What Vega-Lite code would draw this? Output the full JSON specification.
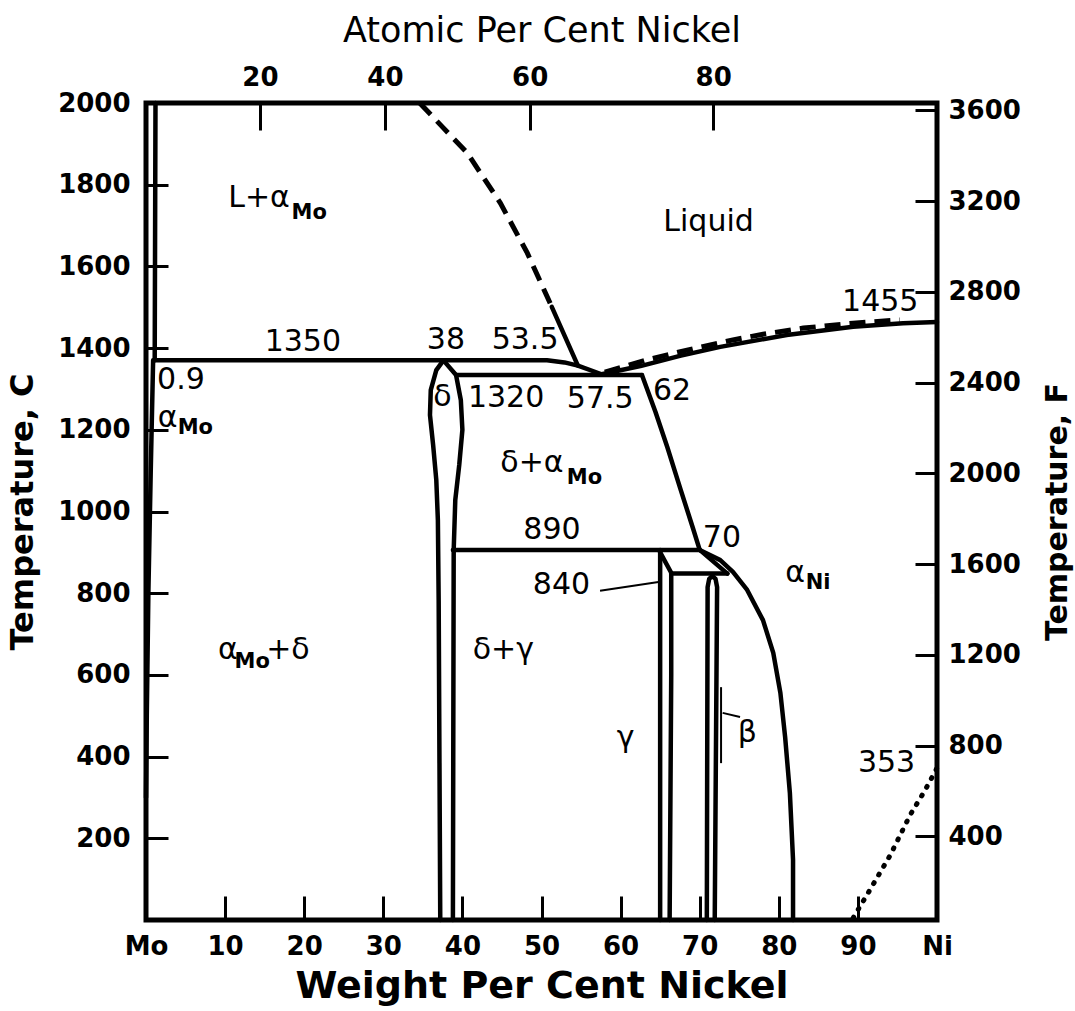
{
  "$schema": "https://vega.github.io/schema/vega-lite/v6.json",
  "width": 791,
  "height": 817,
  "autosize": {"type": "none"},
  "padding": {"left": 146, "top": 103, "right": 138, "bottom": 91},
  "background": "white",
  "config": {
    "view": {"stroke": "black", "strokeWidth": 5},
    "axis": {"domain": false, "grid": false, "labelFont": "DejaVu Sans", "titleFont": "DejaVu Sans", "labelColor": "black", "titleColor": "black", "tickColor": "black", "tickWidth": 3, "labelFlush": false, "labelOverlap": false, "labelBound": false}
  },
  "datasets": {
    "solid": [
      {"id": "moSolidus", "o": 1, "x": 1.2, "t": 2000}, {"id": "moSolidus", "o": 2, "x": 1.1, "t": 1370},
      {"id": "moSolvus", "o": 1, "x": 0.9, "t": 1370}, {"id": "moSolvus", "o": 2, "x": 0.6, "t": 1100}, {"id": "moSolvus", "o": 3, "x": 0.3, "t": 800}, {"id": "moSolvus", "o": 4, "x": 0.1, "t": 500}, {"id": "moSolvus", "o": 5, "x": 0, "t": 300},
      {"id": "peritectic", "o": 1, "x": 1.1, "t": 1370}, {"id": "peritectic", "o": 2, "x": 50.7, "t": 1370}, {"id": "peritectic", "o": 3, "x": 52.9, "t": 1365}, {"id": "peritectic", "o": 4, "x": 54.6, "t": 1357}, {"id": "peritectic", "o": 5, "x": 57.6, "t": 1336},
      {"id": "liqLeft", "o": 1, "x": 51.3, "t": 1501}, {"id": "liqLeft", "o": 2, "x": 54.6, "t": 1357},
      {"id": "deltaL", "o": 1, "x": 37.6, "t": 1370}, {"id": "deltaL", "o": 2, "x": 36.7, "t": 1346}, {"id": "deltaL", "o": 3, "x": 36.0, "t": 1297}, {"id": "deltaL", "o": 4, "x": 35.9, "t": 1236}, {"id": "deltaL", "o": 5, "x": 36.3, "t": 1163}, {"id": "deltaL", "o": 6, "x": 36.7, "t": 1077}, {"id": "deltaL", "o": 7, "x": 36.9, "t": 979}, {"id": "deltaL", "o": 8, "x": 37.0, "t": 783}, {"id": "deltaL", "o": 9, "x": 37.2, "t": 0},
      {"id": "deltaR", "o": 1, "x": 37.6, "t": 1370}, {"id": "deltaR", "o": 2, "x": 39.2, "t": 1334}, {"id": "deltaR", "o": 3, "x": 39.8, "t": 1273}, {"id": "deltaR", "o": 4, "x": 40.0, "t": 1200}, {"id": "deltaR", "o": 5, "x": 39.6, "t": 1114}, {"id": "deltaR", "o": 6, "x": 39.1, "t": 1028}, {"id": "deltaR", "o": 7, "x": 38.9, "t": 906}, {"id": "deltaR", "o": 8, "x": 38.8, "t": 0},
      {"id": "eutectic", "o": 1, "x": 39.2, "t": 1334}, {"id": "eutectic", "o": 2, "x": 62.7, "t": 1334},
      {"id": "liqRight", "o": 1, "x": 57.6, "t": 1336}, {"id": "liqRight", "o": 2, "x": 62.5, "t": 1356}, {"id": "liqRight", "o": 3, "x": 67.5, "t": 1381}, {"id": "liqRight", "o": 4, "x": 72.6, "t": 1403}, {"id": "liqRight", "o": 5, "x": 81.0, "t": 1432}, {"id": "liqRight", "o": 6, "x": 89.4, "t": 1452}, {"id": "liqRight", "o": 7, "x": 95.7, "t": 1461}, {"id": "liqRight", "o": 8, "x": 100, "t": 1464},
      {"id": "niSolidus", "o": 1, "x": 62.7, "t": 1334}, {"id": "niSolidus", "o": 2, "x": 64.4, "t": 1244}, {"id": "niSolidus", "o": 3, "x": 65.9, "t": 1158}, {"id": "niSolidus", "o": 4, "x": 67.6, "t": 1053}, {"id": "niSolidus", "o": 5, "x": 69.1, "t": 962}, {"id": "niSolidus", "o": 6, "x": 70.0, "t": 906},
      {"id": "l890", "o": 1, "x": 38.8, "t": 906}, {"id": "l890", "o": 2, "x": 70.0, "t": 906},
      {"id": "gammaL", "o": 1, "x": 65.0, "t": 906}, {"id": "gammaL", "o": 2, "x": 65.0, "t": 0},
      {"id": "gammaR", "o": 1, "x": 65.0, "t": 900}, {"id": "gammaR", "o": 2, "x": 66.4, "t": 850}, {"id": "gammaR", "o": 3, "x": 66.4, "t": 600}, {"id": "gammaR", "o": 4, "x": 66.2, "t": 0},
      {"id": "l840", "o": 1, "x": 66.4, "t": 848}, {"id": "l840", "o": 2, "x": 73.5, "t": 848},
      {"id": "slope70", "o": 1, "x": 70.0, "t": 906}, {"id": "slope70", "o": 2, "x": 73.5, "t": 848},
      {"id": "niSolvus", "o": 1, "x": 70.0, "t": 906}, {"id": "niSolvus", "o": 2, "x": 72.6, "t": 881}, {"id": "niSolvus", "o": 3, "x": 74.2, "t": 852}, {"id": "niSolvus", "o": 4, "x": 76.0, "t": 808}, {"id": "niSolvus", "o": 5, "x": 78.0, "t": 734}, {"id": "niSolvus", "o": 6, "x": 79.3, "t": 654}, {"id": "niSolvus", "o": 7, "x": 80.2, "t": 556}, {"id": "niSolvus", "o": 8, "x": 80.8, "t": 448}, {"id": "niSolvus", "o": 9, "x": 81.4, "t": 311}, {"id": "niSolvus", "o": 10, "x": 81.8, "t": 147}, {"id": "niSolvus", "o": 11, "x": 81.8, "t": 0},
      {"id": "beta", "o": 1, "x": 70.9, "t": 0}, {"id": "beta", "o": 2, "x": 71.0, "t": 815}, {"id": "beta", "o": 3, "x": 71.2, "t": 835}, {"id": "beta", "o": 4, "x": 71.6, "t": 842}, {"id": "beta", "o": 5, "x": 72.0, "t": 835}, {"id": "beta", "o": 6, "x": 72.2, "t": 815}, {"id": "beta", "o": 7, "x": 71.9, "t": 0}
    ],
    "dashed": [
      {"id": "liqDashL", "o": 1, "x": 34.6, "t": 2000}, {"id": "liqDashL", "o": 2, "x": 37.5, "t": 1941}, {"id": "liqDashL", "o": 3, "x": 40.6, "t": 1878}, {"id": "liqDashL", "o": 4, "x": 44.8, "t": 1755}, {"id": "liqDashL", "o": 5, "x": 48.2, "t": 1633}, {"id": "liqDashL", "o": 6, "x": 51.3, "t": 1501},
      {"id": "liqDashR", "o": 1, "x": 58.0, "t": 1341}, {"id": "liqDashR", "o": 2, "x": 63.3, "t": 1371}, {"id": "liqDashR", "o": 3, "x": 68.4, "t": 1395}, {"id": "liqDashR", "o": 4, "x": 74.2, "t": 1420}, {"id": "liqDashR", "o": 5, "x": 78.0, "t": 1434}, {"id": "liqDashR", "o": 6, "x": 83.1, "t": 1449}, {"id": "liqDashR", "o": 7, "x": 89.4, "t": 1461}, {"id": "liqDashR", "o": 8, "x": 95.3, "t": 1469}
    ],
    "dotted": [
      {"id": "curie", "o": 1, "x": 89.4, "t": 5}, {"id": "curie", "o": 2, "x": 91.5, "t": 73}, {"id": "curie", "o": 3, "x": 94.1, "t": 159}, {"id": "curie", "o": 4, "x": 96.6, "t": 257}, {"id": "curie", "o": 5, "x": 98.5, "t": 318}, {"id": "curie", "o": 6, "x": 100, "t": 372}
    ],
    "thin": [
      {"id": "p840", "o": 1, "x": 57.4, "t": 806}, {"id": "p840", "o": 2, "x": 65.0, "t": 828},
      {"id": "bBar", "o": 1, "x": 72.7, "t": 570}, {"id": "bBar", "o": 2, "x": 72.7, "t": 384},
      {"id": "bArrow", "o": 1, "x": 75.1, "t": 497}, {"id": "bArrow", "o": 2, "x": 72.9, "t": 507}
    ],
    "labels": [
      {"txt": "L+α", "kind": "main", "x": 10.4, "t": 1767},
      {"txt": "Mo", "kind": "sub", "x": 18.4, "t": 1731},
      {"txt": "Liquid", "kind": "main", "x": 65.4, "t": 1709},
      {"txt": "1455", "kind": "main", "x": 88.0, "t": 1513},
      {"txt": "1350", "kind": "main", "x": 15.0, "t": 1415},
      {"txt": "38", "kind": "main", "x": 35.5, "t": 1420},
      {"txt": "53.5", "kind": "main", "x": 43.7, "t": 1420},
      {"txt": "0.9", "kind": "main", "x": 1.4, "t": 1322},
      {"txt": "α", "kind": "main", "x": 1.5, "t": 1229},
      {"txt": "Mo", "kind": "sub", "x": 4.0, "t": 1204},
      {"txt": "δ", "kind": "main", "x": 36.3, "t": 1280},
      {"txt": "1320", "kind": "main", "x": 40.7, "t": 1278},
      {"txt": "57.5", "kind": "main", "x": 53.2, "t": 1275},
      {"txt": "62", "kind": "main", "x": 64.1, "t": 1295},
      {"txt": "δ+α", "kind": "main", "x": 44.8, "t": 1119},
      {"txt": "Mo", "kind": "sub", "x": 53.2, "t": 1082},
      {"txt": "890", "kind": "main", "x": 47.7, "t": 955},
      {"txt": "70", "kind": "main", "x": 70.4, "t": 935},
      {"txt": "α", "kind": "main", "x": 80.8, "t": 849},
      {"txt": "Ni", "kind": "sub", "x": 83.4, "t": 825},
      {"txt": "840", "kind": "main", "x": 48.9, "t": 820},
      {"txt": "α", "kind": "main", "x": 9.1, "t": 661},
      {"txt": "Mo", "kind": "sub", "x": 11.2, "t": 632},
      {"txt": "+δ", "kind": "main", "x": 15.2, "t": 661},
      {"txt": "δ+γ", "kind": "main", "x": 41.3, "t": 661},
      {"txt": "γ", "kind": "main", "x": 59.5, "t": 445},
      {"txt": "β", "kind": "main", "x": 74.8, "t": 458},
      {"txt": "353", "kind": "main", "x": 90.0, "t": 384}
    ]
  },
  "layer": [
    {
      "data": {"name": "solid"},
      "mark": {"type": "line", "stroke": "black", "strokeWidth": 4.5, "strokeCap": "round", "strokeJoin": "round"},
      "encoding": {
        "x": {"field": "x", "type": "quantitative", "scale": {"domain": [0, 100], "nice": false, "zero": false},
          "axis": {"orient": "bottom", "values": [0, 10, 20, 30, 40, 50, 60, 70, 80, 90, 100], "tickSize": -24, "labelPadding": 37, "labelFontSize": 26, "labelFontWeight": "bold", "labelExpr": "datum.value == 0 ? 'Mo' : datum.value == 100 ? 'Ni' : datum.label", "title": "Weight Per Cent Nickel", "titleFontSize": 38, "titleFontWeight": "bold", "titlePadding": 8}},
        "y": {"field": "t", "type": "quantitative", "scale": {"domain": [0, 2000], "nice": false, "zero": false},
          "axis": {"orient": "left", "values": [200, 400, 600, 800, 1000, 1200, 1400, 1600, 1800, 2000], "format": "d", "tickSize": -22, "labelPadding": 38, "labelFontSize": 26, "labelFontWeight": "bold", "title": "Temperature, C", "titleFontSize": 32, "titleFontWeight": "bold", "titlePadding": 18}},
        "detail": {"field": "id"},
        "order": {"field": "o"}
      }
    },
    {
      "data": {"name": "dashed"},
      "mark": {"type": "line", "stroke": "black", "strokeWidth": 5, "strokeDash": [16, 9], "strokeCap": "butt"},
      "encoding": {
        "x": {"field": "x", "type": "quantitative", "scale": {"domain": [0, 100], "nice": false, "zero": false},
          "axis": {"orient": "top", "values": [14.4, 30.2, 48.5, 71.7], "tickSize": -27, "labelPadding": 40, "labelFontSize": 26, "labelFontWeight": "bold", "labelExpr": "datum.value < 20 ? '20' : datum.value < 40 ? '40' : datum.value < 60 ? '60' : '80'", "title": "Atomic Per Cent Nickel", "titleFontSize": 35, "titleFontWeight": "normal", "titlePadding": 16}},
        "y": {"field": "t", "type": "quantitative", "scale": {"domain": [0, 2000], "nice": false, "zero": false},
          "axis": {"orient": "right", "values": [204.444, 426.667, 648.889, 871.111, 1093.333, 1315.556, 1537.778, 1760, 1982.222], "tickSize": -22, "labelPadding": 33, "labelFontSize": 26, "labelFontWeight": "bold", "labelExpr": "format(datum.value * 1.8 + 32, '.0f')", "title": "Temperature, F", "titleFontSize": 30, "titleFontWeight": "bold", "titleAngle": 270, "titlePadding": 52}},
        "detail": {"field": "id"},
        "order": {"field": "o"}
      }
    },
    {
      "data": {"name": "dotted"},
      "mark": {"type": "line", "stroke": "black", "strokeWidth": 5, "strokeDash": [1, 9], "strokeCap": "round"},
      "encoding": {
        "x": {"field": "x", "type": "quantitative", "axis": null},
        "y": {"field": "t", "type": "quantitative", "axis": null},
        "detail": {"field": "id"},
        "order": {"field": "o"}
      }
    },
    {
      "data": {"name": "thin"},
      "mark": {"type": "line", "stroke": "black", "strokeWidth": 2},
      "encoding": {
        "x": {"field": "x", "type": "quantitative", "axis": null},
        "y": {"field": "t", "type": "quantitative", "axis": null},
        "detail": {"field": "id"},
        "order": {"field": "o"}
      }
    },
    {
      "data": {"name": "labels"},
      "transform": [{"filter": "datum.kind == 'main'"}],
      "mark": {"type": "text", "font": "DejaVu Sans", "fontSize": 30, "align": "left", "baseline": "middle", "color": "black"},
      "encoding": {
        "x": {"field": "x", "type": "quantitative", "axis": null},
        "y": {"field": "t", "type": "quantitative", "axis": null},
        "text": {"field": "txt"}
      }
    },
    {
      "data": {"name": "labels"},
      "transform": [{"filter": "datum.kind == 'sub'"}],
      "mark": {"type": "text", "font": "DejaVu Sans", "fontSize": 21, "fontWeight": "bold", "align": "left", "baseline": "middle", "color": "black"},
      "encoding": {
        "x": {"field": "x", "type": "quantitative", "axis": null},
        "y": {"field": "t", "type": "quantitative", "axis": null},
        "text": {"field": "txt"}
      }
    }
  ],
  "resolve": {"axis": {"x": "independent", "y": "independent"}}
}
